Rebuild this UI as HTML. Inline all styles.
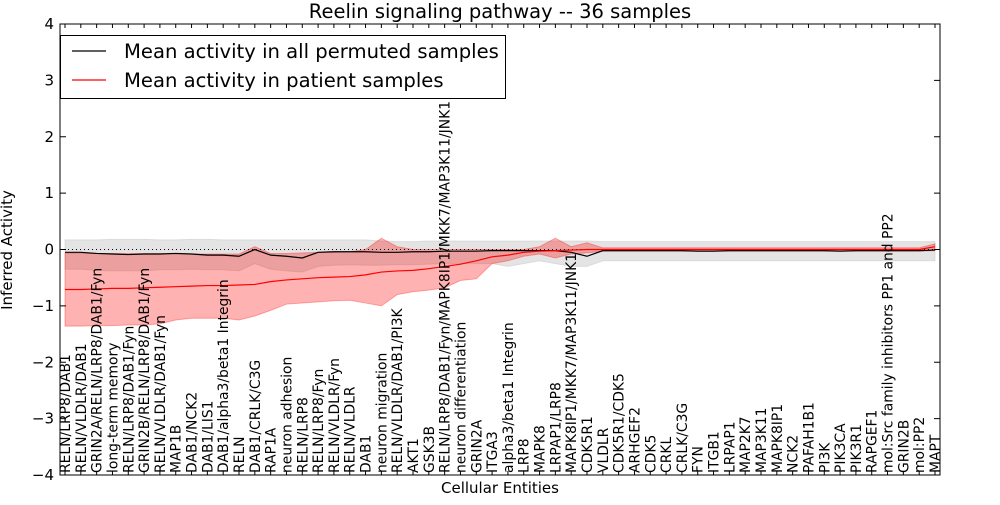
<!DOCTYPE html>
<html><head><meta charset="utf-8"><style>
body{margin:0;background:#fff}
svg{font-family:"DejaVu Sans","Liberation Sans",sans-serif}
</style></head><body>
<svg id="chart" width="1000" height="500" xmlns="http://www.w3.org/2000/svg"></svg>
<script>
const categories=["RELN/LRP8/DAB1","RELN/VLDLR/DAB1","GRIN2A/RELN/LRP8/DAB1/Fyn","long-term memory","RELN/LRP8/DAB1/Fyn","GRIN2B/RELN/LRP8/DAB1/Fyn","RELN/VLDLR/DAB1/Fyn","MAP1B","DAB1/NCK2","DAB1/LIS1","DAB1/alpha3/beta1 Integrin","RELN","DAB1/CRLK/C3G","RAP1A","neuron adhesion","RELN/LRP8","RELN/LRP8/Fyn","RELN/VLDLR/Fyn","RELN/VLDLR","DAB1","neuron migration","RELN/VLDLR/DAB1/PI3K","AKT1","GSK3B","RELN/LRP8/DAB1/Fyn/MAPK8IP1/MKK7/MAP3K11/JNK1","neuron differentiation","GRIN2A","ITGA3","alpha3/beta1 Integrin","LRP8","MAPK8","LRPAP1/LRP8","MAPK8IP1/MKK7/MAP3K11/JNK1","CDK5R1","VLDLR","CDK5R1/CDK5","ARHGEF2","CDK5","CRKL","CRLK/C3G","FYN","ITGB1","LRPAP1","MAP2K7","MAP3K11","MAPK8IP1","NCK2","PAFAH1B1","PI3K","PIK3CA","PIK3R1","RAPGEF1","mol:Src family inhibitors PP1 and PP2","GRIN2B","mol:PP2","MAPT"];
const redMean=[-0.71,-0.71,-0.70,-0.69,-0.69,-0.68,-0.67,-0.66,-0.65,-0.64,-0.64,-0.63,-0.62,-0.57,-0.54,-0.52,-0.50,-0.49,-0.48,-0.45,-0.40,-0.38,-0.37,-0.34,-0.30,-0.26,-0.20,-0.13,-0.10,-0.05,-0.03,-0.02,-0.01,0,0,0,0,0,0,0,0,0,0,0,0,0,0,0,0,0,0,0,0,0,0,0.05];
const redLow=[-1.36,-1.36,-1.35,-1.35,-1.34,-1.34,-1.32,-1.25,-1.22,-1.22,-1.22,-1.25,-1.18,-1.08,-0.97,-0.95,-0.93,-0.91,-0.90,-0.95,-1.0,-0.80,-0.75,-0.72,-0.68,-0.55,-0.52,-0.25,-0.20,-0.12,-0.08,-0.15,-0.08,-0.06,-0.03,-0.03,-0.03,-0.03,-0.03,-0.03,-0.03,-0.03,-0.03,-0.03,-0.03,-0.03,-0.03,-0.03,-0.03,-0.03,-0.03,-0.03,-0.03,-0.03,-0.03,-0.02];
const redHigh=[-0.07,-0.07,-0.07,-0.07,-0.07,-0.07,-0.07,-0.07,-0.08,-0.08,-0.08,-0.08,0.05,-0.07,-0.07,-0.06,-0.05,-0.05,-0.04,0.0,0.2,0.05,0.0,0.0,0.0,0.0,0.0,0.0,0.0,0.0,0.05,0.2,0.05,0.12,0.03,0.03,0.03,0.03,0.03,0.03,0.03,0.03,0.03,0.03,0.03,0.03,0.03,0.03,0.03,0.03,0.03,0.03,0.03,0.03,0.03,0.1];
const grayMean=[-0.05,-0.05,-0.07,-0.08,-0.09,-0.08,-0.08,-0.07,-0.08,-0.1,-0.1,-0.12,0.0,-0.1,-0.12,-0.15,-0.05,-0.04,-0.04,-0.04,-0.05,-0.05,-0.04,-0.04,-0.03,-0.03,-0.03,-0.02,-0.02,-0.02,-0.02,-0.02,-0.05,-0.12,-0.02,-0.02,-0.02,-0.02,-0.02,-0.02,-0.03,-0.03,-0.02,-0.02,-0.02,-0.02,-0.02,-0.02,-0.02,-0.03,-0.02,-0.02,-0.02,-0.02,-0.02,-0.01];
const grayLow=[-0.35,-0.35,-0.37,-0.38,-0.38,-0.38,-0.36,-0.36,-0.35,-0.36,-0.36,-0.38,-0.25,-0.35,-0.38,-0.4,-0.3,-0.28,-0.27,-0.28,-0.28,-0.27,-0.27,-0.26,-0.25,-0.25,-0.25,-0.25,-0.3,-0.25,-0.2,-0.25,-0.3,-0.3,-0.2,-0.2,-0.2,-0.2,-0.2,-0.2,-0.2,-0.2,-0.2,-0.2,-0.2,-0.2,-0.2,-0.2,-0.2,-0.2,-0.2,-0.2,-0.2,-0.2,-0.2,-0.2];
const grayHigh=[0.17,0.17,0.17,0.18,0.18,0.18,0.17,0.17,0.18,0.18,0.17,0.17,0.17,0.17,0.17,0.17,0.17,0.17,0.17,0.17,0.15,0.14,0.14,0.15,0.15,0.15,0.15,0.15,0.15,0.15,0.15,0.15,0.15,0.15,0.14,0.14,0.14,0.14,0.14,0.14,0.14,0.14,0.14,0.14,0.14,0.14,0.14,0.14,0.14,0.14,0.14,0.14,0.14,0.14,0.14,0.14];
const yTicks=[-4,-3,-2,-1,0,1,2,3,4];
const yTickLabels=["\u22124","\u22123","\u22122","\u22121","0","1","2","3","4"];

const L=60,R=940,T=24,B=475;
const X=i=>65+i*(R-L-10)/(categories.length-1);
const Y=v=>T+(4-v)*(B-T)/8;
const NS="http://www.w3.org/2000/svg";
const svg=document.getElementById('chart');
function mk(tag,attrs,parent){const e=document.createElementNS(NS,tag);for(const k in attrs)e.setAttribute(k,attrs[k]);(parent||svg).appendChild(e);return e;}
function band(lo,hi,fill,op,name){
  let d=hi.map((v,i)=>(i?'L':'M')+X(i)+','+Y(v)).join('');
  for(let i=lo.length-1;i>=0;i--)d+='L'+X(i)+','+Y(lo[i]);
  const p=mk('path',{d:d+'Z',fill:fill,'fill-opacity':op,stroke:fill,'stroke-opacity':op,'stroke-width':1});
  
  
}
function line(vals,col,name){
  const p=mk('path',{d:vals.map((v,i)=>(i?'L':'M')+X(i)+','+Y(v)).join(''),fill:'none',stroke:col,'stroke-width':1.2});
  
  
}
band(grayLow,grayHigh,'#bbbbbb',0.4,'permuted-band');
band(redLow,redHigh,'#ff0000',0.3,'patient-band');
const zl=mk('line',{x1:L,x2:R,y1:Y(0),y2:Y(0),stroke:'#000','stroke-dasharray':'1,3','stroke-width':1});


line(grayMean,'#000','permuted-mean-line');
line(redMean,'#ff0000','patient-mean-line');
const fr=mk('rect',{x:L,y:T,width:R-L,height:B-T,fill:'none',stroke:'#000','stroke-width':1});


yTicks.forEach((t,i)=>{
  mk('line',{x1:L,x2:L+6,y1:Y(t),y2:Y(t),stroke:'#000'});
  mk('line',{x1:R-6,x2:R,y1:Y(t),y2:Y(t),stroke:'#000'});
  const tx=mk('text',{x:L-6,y:Y(t)+5,'text-anchor':'end','font-size':15});
  tx.textContent=yTickLabels[i];
  
  
});
categories.forEach((c,i)=>{
  mk('line',{x1:X(i),x2:X(i),y1:B,y2:B-4,stroke:'#000'});
  mk('line',{x1:X(i),x2:X(i),y1:T,y2:T+4,stroke:'#000'});
  const tx=mk('text',{transform:`translate(${X(i)+5},${B-2}) rotate(-90)`,'font-size':13.9});
  tx.textContent=c;
  
  
});
const ti=mk('text',{x:500,y:18,'text-anchor':'middle','font-size':19.5});
ti.textContent='Reelin signaling pathway -- 36 samples';


const xt=mk('text',{x:500,y:493,'text-anchor':'middle','font-size':15});
xt.textContent='Cellular Entities';


const yt=mk('text',{transform:'translate(12,250) rotate(-90)','text-anchor':'middle','font-size':15});
yt.textContent='Inferred Activity';


const lg=mk('g',{});


mk('rect',{x:60.5,y:35.5,width:445,height:63,fill:'#fff',stroke:'#000'},lg);
[['#000','Mean activity in all permuted samples',51],['#ff0000','Mean activity in patient samples',80]].forEach(([c,t,y])=>{
  const g=mk('g',{},lg);
  
  
  mk('line',{x1:72,x2:106,y1:y,y2:y,stroke:c,'stroke-width':1.2},g);
  const tx=mk('text',{x:124,y:y+7,'font-size':19.6},g);
  tx.textContent=t;
});
</script>
</body></html>
